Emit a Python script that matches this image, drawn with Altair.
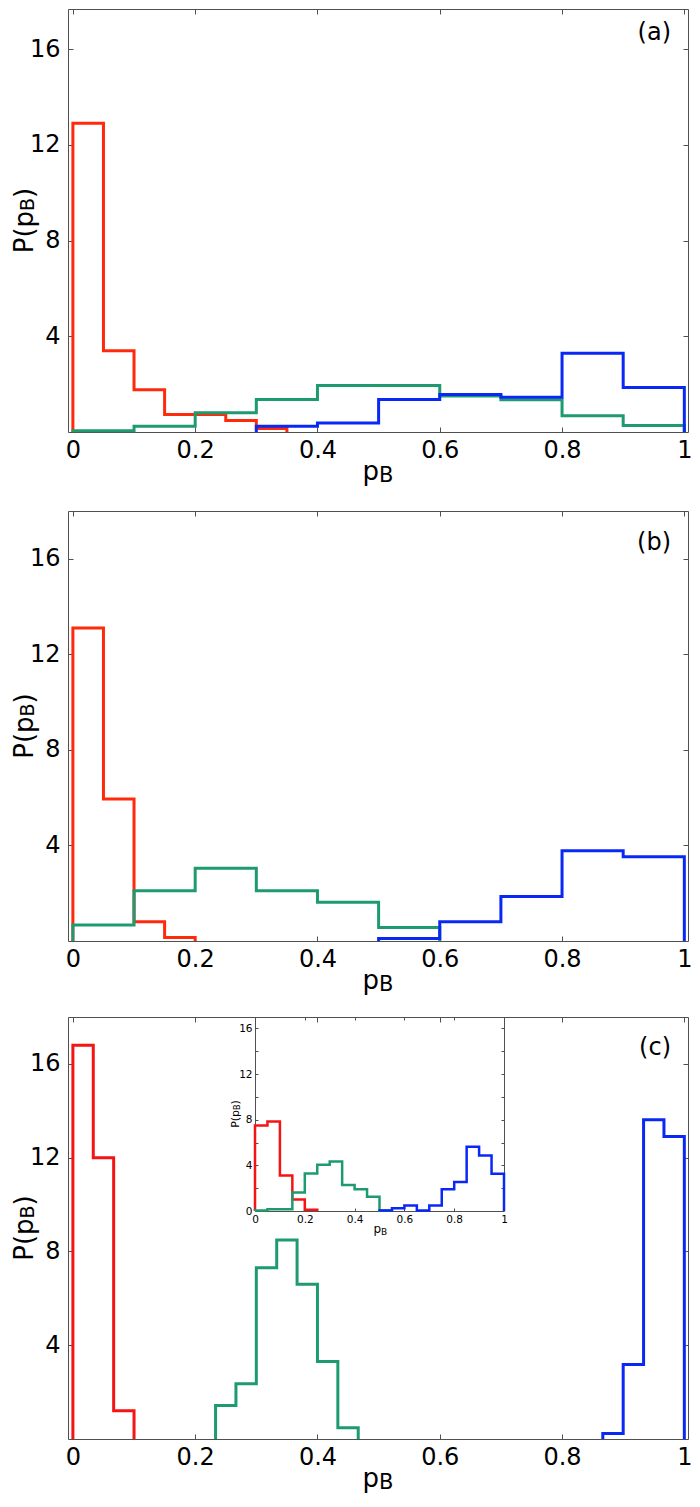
import altair as alt
import pandas as pd

# ---------------- data (bin edges and heights) ----------------
# Panel (a)
a_red_edges = [0, 0.05, 0.1, 0.15, 0.2, 0.25, 0.3, 0.35]
a_red_vals = [12.9, 3.4, 1.77, 0.73, 0.73, 0.48, 0.15]
a_green_edges = [0, 0.1, 0.2, 0.3, 0.4, 0.5, 0.6, 0.7, 0.8, 0.9, 1.0]
a_green_vals = [0.05, 0.24, 0.8, 1.36, 1.94, 1.94, 1.5, 1.35, 0.68, 0.27]
a_blue_edges = [0.3, 0.4, 0.5, 0.6, 0.7, 0.8, 0.9, 1.0]
a_blue_vals = [0.24, 0.38, 1.36, 1.57, 1.45, 3.29, 1.86]

# Panel (b)
b_red_edges = [0, 0.05, 0.1, 0.15, 0.2]
b_red_vals = [13.1, 5.94, 0.81, 0.15]
b_green_edges = [0, 0.1, 0.2, 0.3, 0.4, 0.5, 0.6]
b_green_vals = [0.67, 2.1, 3.05, 2.1, 1.62, 0.57]
b_blue_edges = [0.5, 0.6, 0.7, 0.8, 0.9, 1.0]
b_blue_vals = [0.1, 0.81, 1.86, 3.78, 3.53]

# Panel (c)
c_red_edges = [0, 1 / 30, 2 / 30, 3 / 30]
c_red_vals = [16.8, 12.0, 1.2]
c_green_edges = [7 / 30, 8 / 30, 9 / 30, 10 / 30, 11 / 30, 12 / 30, 13 / 30, 14 / 30]
c_green_vals = [1.43, 2.36, 7.3, 8.49, 6.6, 3.31, 0.48]
c_blue_edges = [26 / 30, 27 / 30, 28 / 30, 29 / 30, 1.0]
c_blue_vals = [0.23, 3.18, 13.62, 12.9]

# Inset of panel (c)
i_red_edges = [0, 0.05, 0.1, 0.15, 0.2, 0.25]
i_red_vals = [7.5, 7.85, 3.1, 1.0, 0.1]
i_green_edges = [0, 0.05, 0.1, 0.15, 0.2, 0.25, 0.3, 0.35, 0.4, 0.45, 0.5, 0.55]
i_green_vals = [0.05, 0.15, 0.15, 1.63, 3.28, 4.05, 4.34, 2.28, 1.91, 1.25, 0.05]
i_blue_edges = [0.5, 0.55, 0.6, 0.65, 0.7, 0.75, 0.8, 0.85, 0.9, 0.95, 1.0]
i_blue_vals = [0.05, 0.25, 0.48, 0.05, 0.48, 1.91, 2.54, 5.63, 4.86, 3.26]

panel_labels = ["(a)", "(b)", "(c)"]
x_ticks = [0, 0.2, 0.4, 0.6, 0.8, 1.0]
y_ticks = [4, 8, 12, 16]
inset_x_ticks = [0.2, 0.4, 0.6, 0.8]
inset_y_labels = [0, 4, 8, 12, 16]
inset_y_ticks = [2, 4, 6, 8, 10, 12, 14, 16]

# ---------------- layout / style ----------------
FONT = "DejaVu Sans"
W = 620          # plot width (px)
VH = 1430        # height of the whole drawing area holding the three panels
XD = [-0.008, 1.006]
AX = "#505050"
RED_AB, RED_C, GREEN, BLUE = "#ff2a0c", "#f41414", "#1e9b6e", "#0a28f5"
SERIES = ["red", "green", "blue"]


def steps(edges, vals, name):
    rows = [(edges[0], 0.0)]
    for i, v in enumerate(vals):
        rows.append((edges[i], v))
        rows.append((edges[i + 1], v))
    rows.append((edges[-1], 0.0))
    return pd.DataFrame({"x": [r[0] for r in rows], "y": [r[1] for r in rows],
                         "s": name, "o": list(range(len(rows)))})


def frame(parts):
    return pd.concat([steps(e, v, n) for e, v, n in parts], ignore_index=True)


def tick_axis(orient, offset, values, size=5):
    return alt.Axis(orient=orient, offset=offset, values=values, labels=False,
                    domain=True, domainColor=AX, domainWidth=1, grid=False,
                    ticks=True, tickSize=size, tickColor=AX, tickWidth=1,
                    title=None)


def txt(s, x, y, size, angle=0, align="left"):
    mark = dict(align=align, baseline="alphabetic", fontSize=size, font=FONT,
                color="black")
    if angle:
        mark["angle"] = angle
    return alt.Chart(pd.DataFrame({"t": [s]})).mark_text(**mark).encode(
        text="t:N", x=alt.value(x), y=alt.value(y))


def y_title(cx, cy, big, small):
    # "P(p" + subscript "B" + ")" written bottom-to-top
    l1 = 1.628 * big
    l2 = 0.686 * small
    start = cy + (l1 + l2 + 0.39 * big) / 2
    return [txt("P(p", cx, start, big, 270),
            txt("B", cx + 1, start - l1, small, 270),
            txt(")", cx, start - l1 - l2, big, 270)]


def x_title(cx, base, big, small):
    return [txt("p", cx, base, big, align="right"),
            txt("B", cx, base + 2, small, align="left")]


def panel_layers(df, top, bottom, ymax, label, label_y, red):
    xs = lambda: alt.Scale(domain=XD, nice=False, zero=False)
    ys = lambda: alt.Scale(domain=[0, ymax], range=[bottom, top], nice=False, zero=False)
    lines = alt.Chart(df).mark_line(strokeWidth=3, strokeJoin="miter").encode(
        x=alt.X("x:Q", scale=xs(), axis=alt.Axis(
            orient="bottom", offset=bottom - VH, values=x_ticks, format=".1~f",
            ticks=False, domain=False, grid=False, labelFontSize=24,
            labelFont=FONT, labelColor="black", labelPadding=6,
            labelFlush=False, title=None)),
        y=alt.Y("y:Q", scale=ys(), axis=alt.Axis(
            orient="left", values=y_ticks, format="d", ticks=False,
            domain=False, grid=False, labelFontSize=24, labelFont=FONT,
            labelColor="black", labelPadding=8, labelFlush=False, title=None)),
        color=alt.Color("s:N", scale=alt.Scale(domain=SERIES,
                        range=[red, GREEN, BLUE]), legend=None),
        order="o:Q",
    )
    ta = alt.Chart(df).mark_line(opacity=0).encode(
        x=alt.X("x:Q", scale=xs(), axis=tick_axis("top", -bottom, x_ticks)),
        y=alt.Y("y:Q", scale=ys(), axis=tick_axis("right", -W, y_ticks)),
    )
    tb = alt.Chart(df).mark_line(opacity=0).encode(
        x=alt.X("x:Q", scale=xs(), axis=tick_axis("bottom", top - VH, x_ticks)),
        y=alt.Y("y:Q", scale=ys(), axis=tick_axis("left", -W, y_ticks)),
    )
    cy = (top + bottom) / 2
    texts = y_title(-35, cy, 26, 19) + x_title(311, bottom + 48, 26, 21) + [
        txt(label, 603, label_y, 24, align="right")]
    return [lines, ta, tb] + texts


df_a = frame([(a_red_edges, a_red_vals, "red"), (a_green_edges, a_green_vals, "green"),
              (a_blue_edges, a_blue_vals, "blue")])
df_b = frame([(b_red_edges, b_red_vals, "red"), (b_green_edges, b_green_vals, "green"),
              (b_blue_edges, b_blue_vals, "blue")])
df_c = frame([(c_red_edges, c_red_vals, "red"), (c_green_edges, c_green_vals, "green"),
              (c_blue_edges, c_blue_vals, "blue")])
df_i = frame([(i_red_edges, i_red_vals, "red"), (i_green_edges, i_green_vals, "green"),
              (i_blue_edges, i_blue_vals, "blue")])

layers = []
layers += panel_layers(df_a, 0, 423, 17.68, panel_labels[0], 31, RED_AB)
layers += panel_layers(df_b, 502, 932, 18, panel_labels[1], 541, RED_AB)
layers += panel_layers(df_c, 1008, 1430, 18, panel_labels[2], 1046, RED_C)

# ---------------- inset ----------------
IX0, IX1 = 187, 436
IYT, IYB = 1008, 1202
ixs = lambda: alt.Scale(domain=[0, 1], range=[IX0, IX1], nice=False, zero=False)
iys = lambda: alt.Scale(domain=[0, 17], range=[IYB, IYT], nice=False, zero=False)

inset_lines = alt.Chart(df_i).mark_line(strokeWidth=2.5, strokeJoin="miter").encode(
    x=alt.X("x:Q", scale=ixs(), axis=alt.Axis(
        orient="bottom", offset=IYB - VH, values=x_ticks, format=".1~f",
        ticks=False, domain=False, grid=False, labelFontSize=10.5,
        labelFont=FONT, labelColor="black", labelPadding=3, labelFlush=False,
        title=None)),
    y=alt.Y("y:Q", scale=iys(), axis=alt.Axis(
        orient="left", offset=-IX0, values=inset_y_labels, format="d",
        ticks=False, domain=False, grid=False, labelFontSize=10.5,
        labelFont=FONT, labelColor="black", labelPadding=3, labelFlush=False,
        title=None)),
    color=alt.Color("s:N", scale=alt.Scale(domain=SERIES,
                    range=[RED_C, GREEN, BLUE]), legend=None),
    order="o:Q",
)
inset_ta = alt.Chart(df_i).mark_line(opacity=0).encode(
    x=alt.X("x:Q", scale=ixs(), axis=tick_axis("top", -IYB, inset_x_ticks, 3)),
    y=alt.Y("y:Q", scale=iys(), axis=tick_axis("right", IX0 - W, inset_y_ticks, 3)),
)
inset_tb = alt.Chart(df_i).mark_line(opacity=0).encode(
    x=alt.X("x:Q", scale=ixs(), axis=tick_axis("bottom", IYT - VH, inset_x_ticks, 3)),
    y=alt.Y("y:Q", scale=iys(), axis=tick_axis("left", -IX1, inset_y_ticks, 3)),
)
layers += [inset_lines, inset_ta, inset_tb]
layers += y_title(171, (IYT + IYB) / 2, 11, 8)
layers += x_title((IX0 + IX1) / 2 + 1.5, IYB + 21.5, 12, 9)

chart = alt.layer(*layers).resolve_scale(
    x="independent", y="independent", color="independent"
).properties(
    width=W, height=VH,
    autosize=alt.AutoSizeParams(type="none"),
    padding={"left": 60, "top": 1, "right": 4, "bottom": 55},
    background="white",
).configure_view(strokeWidth=0)

chart.save("out.html", embed_options={"renderer": "svg", "actions": False})
